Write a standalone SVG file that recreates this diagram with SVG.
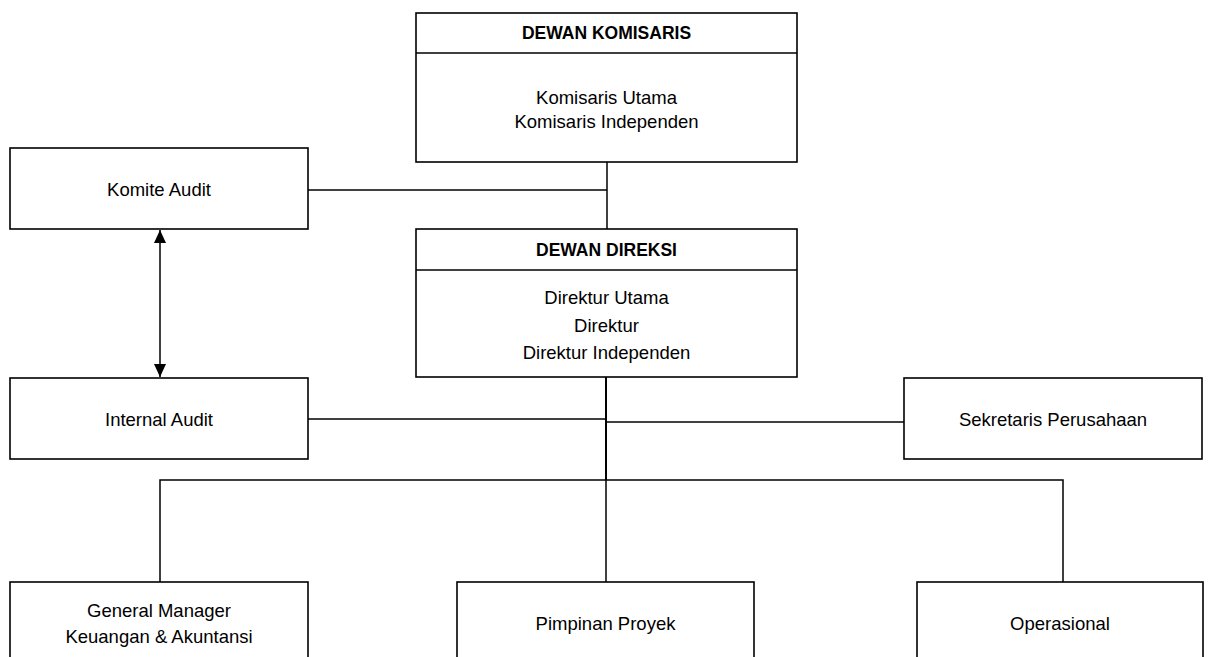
<svg xmlns="http://www.w3.org/2000/svg" width="1211" height="657" viewBox="0 0 1211 657">
<style>
.box{fill:#fff;stroke:#000;stroke-width:1.6}
.ln{fill:none;stroke:#000;stroke-width:1.5}
text{font-family:"Liberation Sans",Arial,sans-serif;font-size:18.5px;fill:#000;text-anchor:middle}
.hd{font-weight:bold;font-size:17.5px}
</style>
<defs>
<marker id="ah" viewBox="0 0 13 12" refX="13" refY="6" markerWidth="13" markerHeight="12" markerUnits="userSpaceOnUse" orient="auto-start-reverse">
<path d="M0,0 L13,6 L0,12 Z" fill="#000"/>
</marker>
</defs>
<rect width="1211" height="657" fill="#fff"/>
<g id="connectors">
<line class="ln" x1="607" y1="162" x2="607" y2="229"/>
<line class="ln" x1="308" y1="190" x2="607" y2="190"/>
<line class="ln" x1="606" y1="377" x2="606" y2="480" style="stroke-width:2"/>
<line class="ln" x1="308" y1="419" x2="606" y2="419"/>
<line class="ln" x1="606" y1="422" x2="904" y2="422"/>
<polyline class="ln" points="160,582 160,480 1063,480 1063,582"/>
<line class="ln" x1="606" y1="480" x2="606" y2="582"/>
<line class="ln" x1="160" y1="230" x2="160" y2="377" marker-start="url(#ah)" marker-end="url(#ah)"/>
</g>
<g id="dewan-komisaris">
<rect class="box" x="416" y="13" width="381" height="149"/>
<line class="ln" x1="416" y1="53" x2="797" y2="53"/>
<text class="hd" x="606.5" y="39">DEWAN KOMISARIS</text>
<text x="606.5" y="104">Komisaris Utama</text>
<text x="606.5" y="128">Komisaris Independen</text>
</g>
<g id="dewan-direksi">
<rect class="box" x="416" y="229" width="381" height="148"/>
<line class="ln" x1="416" y1="270" x2="797" y2="270"/>
<text class="hd" x="606.5" y="256">DEWAN DIREKSI</text>
<text x="606.5" y="304">Direktur Utama</text>
<text x="606.5" y="332">Direktur</text>
<text x="606.5" y="359">Direktur Independen</text>
</g>
<g id="komite-audit">
<rect class="box" x="10" y="148" width="298" height="81"/>
<text x="159" y="196">Komite Audit</text>
</g>
<g id="internal-audit">
<rect class="box" x="10" y="378" width="298" height="81"/>
<text x="159" y="426">Internal Audit</text>
</g>
<g id="sekretaris-perusahaan">
<rect class="box" x="904" y="378" width="298" height="81"/>
<text x="1053" y="426">Sekretaris Perusahaan</text>
</g>
<g id="general-manager">
<rect class="box" x="10" y="582" width="298" height="90"/>
<text x="159" y="617">General Manager</text>
<text x="159" y="643">Keuangan &amp; Akuntansi</text>
</g>
<g id="pimpinan-proyek">
<rect class="box" x="457" y="582" width="297" height="90"/>
<text x="605.5" y="630">Pimpinan Proyek</text>
</g>
<g id="operasional">
<rect class="box" x="917" y="582" width="286" height="90"/>
<text x="1060" y="630">Operasional</text>
</g>
</svg>
